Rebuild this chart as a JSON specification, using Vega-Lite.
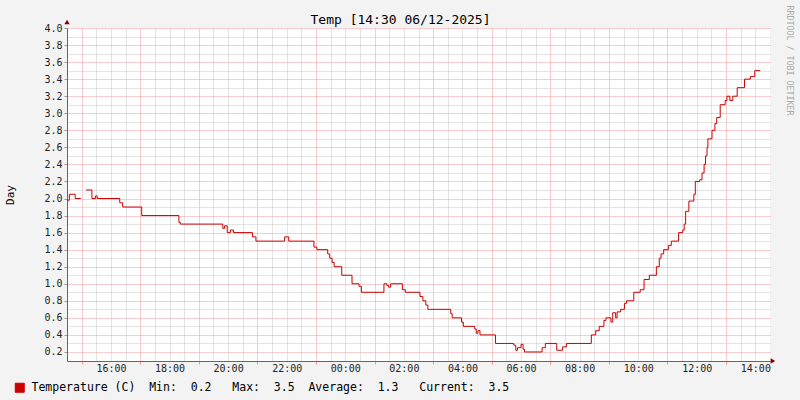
{
  "$schema": "https://vega.github.io/schema/vega-lite/v6.json",
  "width": 703,
  "height": 333,
  "autosize": {"type": "none"},
  "padding": {"left": 67, "top": 28, "right": 30, "bottom": 39},
  "background": "#f3f3f3",
  "config": {
    "view": {"fill": "white", "stroke": null}
  },
  "data": {"values": [
    {"h": 14.5, "v": 1.98, "seg": 1, "s": "Temperature (C)"},
    {"h": 14.58, "v": 2.05, "seg": 1, "s": "Temperature (C)"},
    {"h": 14.78, "v": 2.0, "seg": 1, "s": "Temperature (C)"},
    {"h": 14.97, "v": 2.0, "seg": 1, "s": "Temperature (C)"},
    {"h": 15.15, "v": 2.1, "seg": 2, "s": "Temperature (C)"},
    {"h": 15.35, "v": 2.0, "seg": 2, "s": "Temperature (C)"},
    {"h": 15.47, "v": 2.03, "seg": 2, "s": "Temperature (C)"},
    {"h": 15.53, "v": 2.0, "seg": 2, "s": "Temperature (C)"},
    {"h": 16.3, "v": 1.95, "seg": 2, "s": "Temperature (C)"},
    {"h": 16.4, "v": 1.9, "seg": 2, "s": "Temperature (C)"},
    {"h": 17.05, "v": 1.8, "seg": 2, "s": "Temperature (C)"},
    {"h": 18.32, "v": 1.72, "seg": 2, "s": "Temperature (C)"},
    {"h": 18.37, "v": 1.7, "seg": 2, "s": "Temperature (C)"},
    {"h": 19.82, "v": 1.65, "seg": 2, "s": "Temperature (C)"},
    {"h": 19.88, "v": 1.68, "seg": 2, "s": "Temperature (C)"},
    {"h": 19.97, "v": 1.6, "seg": 2, "s": "Temperature (C)"},
    {"h": 20.08, "v": 1.63, "seg": 2, "s": "Temperature (C)"},
    {"h": 20.18, "v": 1.6, "seg": 2, "s": "Temperature (C)"},
    {"h": 20.83, "v": 1.55, "seg": 2, "s": "Temperature (C)"},
    {"h": 20.95, "v": 1.5, "seg": 2, "s": "Temperature (C)"},
    {"h": 21.93, "v": 1.55, "seg": 2, "s": "Temperature (C)"},
    {"h": 22.07, "v": 1.5, "seg": 2, "s": "Temperature (C)"},
    {"h": 22.93, "v": 1.43, "seg": 2, "s": "Temperature (C)"},
    {"h": 23.03, "v": 1.4, "seg": 2, "s": "Temperature (C)"},
    {"h": 23.4, "v": 1.35, "seg": 2, "s": "Temperature (C)"},
    {"h": 23.47, "v": 1.3, "seg": 2, "s": "Temperature (C)"},
    {"h": 23.55, "v": 1.25, "seg": 2, "s": "Temperature (C)"},
    {"h": 23.62, "v": 1.2, "seg": 2, "s": "Temperature (C)"},
    {"h": 23.88, "v": 1.1, "seg": 2, "s": "Temperature (C)"},
    {"h": 24.23, "v": 1.0, "seg": 2, "s": "Temperature (C)"},
    {"h": 24.47, "v": 0.97, "seg": 2, "s": "Temperature (C)"},
    {"h": 24.55, "v": 0.9, "seg": 2, "s": "Temperature (C)"},
    {"h": 25.32, "v": 1.0, "seg": 2, "s": "Temperature (C)"},
    {"h": 25.42, "v": 0.98, "seg": 2, "s": "Temperature (C)"},
    {"h": 25.48, "v": 0.96, "seg": 2, "s": "Temperature (C)"},
    {"h": 25.55, "v": 1.0, "seg": 2, "s": "Temperature (C)"},
    {"h": 25.95, "v": 0.93, "seg": 2, "s": "Temperature (C)"},
    {"h": 26.05, "v": 0.9, "seg": 2, "s": "Temperature (C)"},
    {"h": 26.55, "v": 0.85, "seg": 2, "s": "Temperature (C)"},
    {"h": 26.65, "v": 0.8, "seg": 2, "s": "Temperature (C)"},
    {"h": 26.75, "v": 0.75, "seg": 2, "s": "Temperature (C)"},
    {"h": 26.82, "v": 0.7, "seg": 2, "s": "Temperature (C)"},
    {"h": 27.6, "v": 0.65, "seg": 2, "s": "Temperature (C)"},
    {"h": 27.65, "v": 0.6, "seg": 2, "s": "Temperature (C)"},
    {"h": 27.97, "v": 0.55, "seg": 2, "s": "Temperature (C)"},
    {"h": 28.03, "v": 0.5, "seg": 2, "s": "Temperature (C)"},
    {"h": 28.42, "v": 0.47, "seg": 2, "s": "Temperature (C)"},
    {"h": 28.47, "v": 0.42, "seg": 2, "s": "Temperature (C)"},
    {"h": 28.53, "v": 0.45, "seg": 2, "s": "Temperature (C)"},
    {"h": 28.6, "v": 0.4, "seg": 2, "s": "Temperature (C)"},
    {"h": 29.13, "v": 0.3, "seg": 2, "s": "Temperature (C)"},
    {"h": 29.75, "v": 0.28, "seg": 2, "s": "Temperature (C)"},
    {"h": 29.82, "v": 0.22, "seg": 2, "s": "Temperature (C)"},
    {"h": 29.88, "v": 0.25, "seg": 2, "s": "Temperature (C)"},
    {"h": 30.0, "v": 0.29, "seg": 2, "s": "Temperature (C)"},
    {"h": 30.07, "v": 0.23, "seg": 2, "s": "Temperature (C)"},
    {"h": 30.12, "v": 0.2, "seg": 2, "s": "Temperature (C)"},
    {"h": 30.72, "v": 0.25, "seg": 2, "s": "Temperature (C)"},
    {"h": 30.83, "v": 0.3, "seg": 2, "s": "Temperature (C)"},
    {"h": 31.22, "v": 0.22, "seg": 2, "s": "Temperature (C)"},
    {"h": 31.42, "v": 0.26, "seg": 2, "s": "Temperature (C)"},
    {"h": 31.55, "v": 0.3, "seg": 2, "s": "Temperature (C)"},
    {"h": 32.4, "v": 0.4, "seg": 2, "s": "Temperature (C)"},
    {"h": 32.55, "v": 0.45, "seg": 2, "s": "Temperature (C)"},
    {"h": 32.67, "v": 0.5, "seg": 2, "s": "Temperature (C)"},
    {"h": 32.83, "v": 0.57, "seg": 2, "s": "Temperature (C)"},
    {"h": 32.9, "v": 0.6, "seg": 2, "s": "Temperature (C)"},
    {"h": 33.07, "v": 0.55, "seg": 2, "s": "Temperature (C)"},
    {"h": 33.13, "v": 0.66, "seg": 2, "s": "Temperature (C)"},
    {"h": 33.23, "v": 0.6, "seg": 2, "s": "Temperature (C)"},
    {"h": 33.28, "v": 0.67, "seg": 2, "s": "Temperature (C)"},
    {"h": 33.4, "v": 0.7, "seg": 2, "s": "Temperature (C)"},
    {"h": 33.53, "v": 0.77, "seg": 2, "s": "Temperature (C)"},
    {"h": 33.6, "v": 0.8, "seg": 2, "s": "Temperature (C)"},
    {"h": 33.85, "v": 0.9, "seg": 2, "s": "Temperature (C)"},
    {"h": 34.07, "v": 0.93, "seg": 2, "s": "Temperature (C)"},
    {"h": 34.2, "v": 1.05, "seg": 2, "s": "Temperature (C)"},
    {"h": 34.38, "v": 1.1, "seg": 2, "s": "Temperature (C)"},
    {"h": 34.62, "v": 1.2, "seg": 2, "s": "Temperature (C)"},
    {"h": 34.72, "v": 1.3, "seg": 2, "s": "Temperature (C)"},
    {"h": 34.78, "v": 1.35, "seg": 2, "s": "Temperature (C)"},
    {"h": 34.87, "v": 1.4, "seg": 2, "s": "Temperature (C)"},
    {"h": 35.03, "v": 1.45, "seg": 2, "s": "Temperature (C)"},
    {"h": 35.13, "v": 1.5, "seg": 2, "s": "Temperature (C)"},
    {"h": 35.38, "v": 1.6, "seg": 2, "s": "Temperature (C)"},
    {"h": 35.52, "v": 1.63, "seg": 2, "s": "Temperature (C)"},
    {"h": 35.57, "v": 1.7, "seg": 2, "s": "Temperature (C)"},
    {"h": 35.62, "v": 1.85, "seg": 2, "s": "Temperature (C)"},
    {"h": 35.73, "v": 1.97, "seg": 2, "s": "Temperature (C)"},
    {"h": 35.9, "v": 2.05, "seg": 2, "s": "Temperature (C)"},
    {"h": 35.95, "v": 2.2, "seg": 2, "s": "Temperature (C)"},
    {"h": 36.1, "v": 2.22, "seg": 2, "s": "Temperature (C)"},
    {"h": 36.18, "v": 2.3, "seg": 2, "s": "Temperature (C)"},
    {"h": 36.25, "v": 2.4, "seg": 2, "s": "Temperature (C)"},
    {"h": 36.3, "v": 2.5, "seg": 2, "s": "Temperature (C)"},
    {"h": 36.35, "v": 2.6, "seg": 2, "s": "Temperature (C)"},
    {"h": 36.38, "v": 2.7, "seg": 2, "s": "Temperature (C)"},
    {"h": 36.52, "v": 2.8, "seg": 2, "s": "Temperature (C)"},
    {"h": 36.62, "v": 2.88, "seg": 2, "s": "Temperature (C)"},
    {"h": 36.68, "v": 2.95, "seg": 2, "s": "Temperature (C)"},
    {"h": 36.8, "v": 3.1, "seg": 2, "s": "Temperature (C)"},
    {"h": 36.97, "v": 3.15, "seg": 2, "s": "Temperature (C)"},
    {"h": 37.03, "v": 3.2, "seg": 2, "s": "Temperature (C)"},
    {"h": 37.13, "v": 3.15, "seg": 2, "s": "Temperature (C)"},
    {"h": 37.23, "v": 3.2, "seg": 2, "s": "Temperature (C)"},
    {"h": 37.38, "v": 3.3, "seg": 2, "s": "Temperature (C)"},
    {"h": 37.63, "v": 3.4, "seg": 2, "s": "Temperature (C)"},
    {"h": 37.83, "v": 3.43, "seg": 2, "s": "Temperature (C)"},
    {"h": 37.98, "v": 3.5, "seg": 2, "s": "Temperature (C)"},
    {"h": 38.17, "v": 3.5, "seg": 2, "s": "Temperature (C)"}
  ]},
  "layer": [
    {
      "mark": {"type": "point", "opacity": 0},
      "encoding": {
        "x": {"field": "h", "type": "quantitative",
          "axis": {"orient": "top", "values": [15.5, 16, 16.5, 17.5, 18, 18.5, 19.5, 20, 20.5, 21.5, 22, 22.5, 23.5, 24, 24.5, 25.5, 26, 26.5, 27.5, 28, 28.5, 29.5, 30, 30.5, 31.5, 32, 32.5, 33.5, 34, 34.5, 35.5, 36, 36.5, 37.5, 38], "labels": false, "ticks": false, "domain": false, "grid": true, "gridColor": "#c8c8c8", "gridDash": [1, 1],
            "title": "Temp [14:30 06/12-2025]", "titleFont": "DejaVu Sans Mono", "titleFontSize": 13, "titleFontWeight": "normal", "titleColor": "#000000", "titleX": 333, "titleY": -9, "titleAlign": "center", "titleBaseline": "middle", "titleAngle": 0}},
        "y": {"field": "v", "type": "quantitative",
          "axis": {"orient": "left", "values": [0.3, 0.5, 0.7, 0.9, 1.1, 1.3, 1.5, 1.7, 1.9, 2.1, 2.3, 2.5, 2.7, 2.9, 3.1, 3.3, 3.5, 3.7, 3.9], "labels": false, "ticks": false, "domain": false, "title": null, "grid": true, "gridColor": "#c8c8c8", "gridDash": [1, 1]}}
      }
    },
    {
      "mark": {"type": "point", "opacity": 0},
      "encoding": {
        "x": {"field": "h", "type": "quantitative",
          "axis": {"orient": "bottom", "values": [15, 17, 19, 21, 23, 25, 27, 29, 31, 33, 35, 37], "labels": false, "ticks": true, "tickSize": 3, "tickColor": "#f29a9a", "domain": false, "title": null, "grid": true, "gridColor": "#f29a9a", "gridDash": [1, 1]}},
        "y": {"field": "v", "type": "quantitative",
          "axis": {"orient": "left", "values": [0.2, 0.4, 0.6, 0.8, 1.0, 1.2, 1.4, 1.6, 1.8, 2.0, 2.2, 2.4, 2.6, 2.8, 3.0, 3.2, 3.4, 3.6, 3.8, 4.0], "labels": false, "ticks": false, "domain": false, "title": null, "grid": true, "gridColor": "#f29a9a", "gridDash": [1, 1]}}
      }
    },
    {
      "mark": {"type": "line", "interpolate": "step-after", "strokeWidth": 1},
      "encoding": {
        "x": {"field": "h", "type": "quantitative",
          "scale": {"domain": [14.5, 38.5], "nice": false, "zero": false},
          "axis": {"orient": "bottom", "values": [16, 18, 20, 22, 24, 26, 28, 30, 32, 34, 36, 38], "labelExpr": "(datum.value % 24 < 10 ? '0' : '') + (datum.value % 24) + ':00'", "labelFont": "DejaVu Sans Mono", "labelFontSize": 10, "labelColor": "#222222", "ticks": false, "domainColor": "#666666", "grid": false, "title": null}},
        "y": {"field": "v", "type": "quantitative",
          "scale": {"domain": [0.094, 4.0], "nice": false, "zero": false},
          "axis": {"orient": "left", "values": [0.2, 0.4, 0.6, 0.8, 1.0, 1.2, 1.4, 1.6, 1.8, 2.0, 2.2, 2.4, 2.6, 2.8, 3.0, 3.2, 3.4, 3.6, 3.8, 4.0], "format": ".1f", "labelFont": "DejaVu Sans Mono", "labelFontSize": 10, "labelColor": "#222222", "tickSize": 3, "tickColor": "#999999", "domainColor": "#666666", "grid": false, "title": "Day", "titleFont": "DejaVu Sans Mono", "titleFontSize": 11, "titleFontWeight": "normal", "titleColor": "#000000", "titlePadding": 28}},
        "detail": {"field": "seg", "type": "nominal"},
        "color": {"field": "s", "type": "nominal",
          "scale": {"range": ["#cc0000"]},
          "legend": {"orient": "none", "legendX": -53, "legendY": 354, "title": null, "symbolType": "square", "symbolSize": 81, "labelFont": "DejaVu Sans Mono", "labelFontSize": 11.5, "labelColor": "#000000", "labelLimit": 700, "labelOffset": 6,
            "labelExpr": "'Temperature (C)\u00a0\u00a0Min:\u00a0\u00a00.2\u00a0\u00a0\u00a0Max:\u00a0\u00a03.5\u00a0\u00a0Average:\u00a0\u00a01.3\u00a0\u00a0\u00a0Current:\u00a0\u00a03.5'",
            "encode": {"symbols": {"update": {"fill": {"value": "#cc0000"}, "stroke": {"value": "#000000"}, "strokeWidth": {"value": 1}, "opacity": {"value": 1}}}}}}
      }
    },
    {
      "data": {"values": [{}]},
      "mark": {"type": "point", "shape": "triangle-up", "filled": true, "size": 28, "color": "#7f0000", "opacity": 1, "clip": false},
      "encoding": {
        "x": {"datum": 14.5, "type": "quantitative", "axis": null},
        "y": {"datum": 4.07, "type": "quantitative",
          "axis": {"orient": "right", "labels": false, "ticks": false, "domain": false, "grid": false,
            "title": "RRDTOOL / TOBI OETIKER", "titleFont": "DejaVu Sans Mono", "titleFontSize": 8.3, "titleFontWeight": "normal", "titleColor": "#aaaaaa", "titleAngle": 90, "titleAnchor": "end", "titleAlign": "left", "titleBaseline": "middle", "titlePadding": 18, "titleY": -23}}
      }
    },
    {
      "data": {"values": [{}]},
      "mark": {"type": "point", "shape": "triangle-right", "filled": true, "size": 28, "color": "#7f0000", "opacity": 1, "clip": false},
      "encoding": {
        "x": {"datum": 38.6, "type": "quantitative", "axis": null},
        "y": {"datum": 0.094, "type": "quantitative", "axis": null}
      }
    }
  ],
  "resolve": {"axis": {"x": "independent", "y": "independent"}}
}
